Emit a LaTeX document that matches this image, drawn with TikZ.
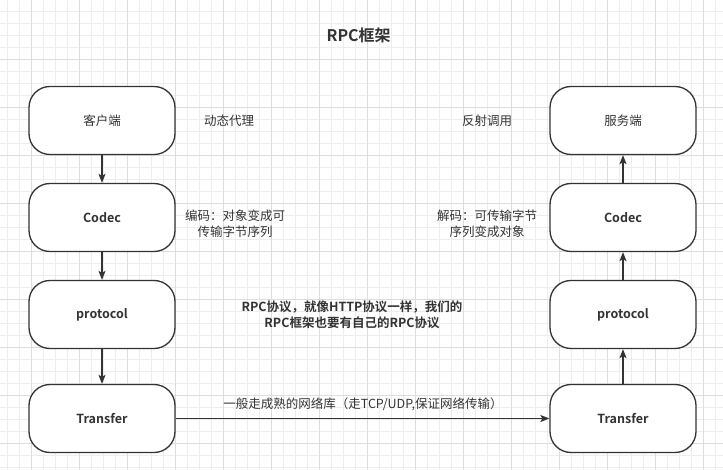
\documentclass[tikz,border=0pt]{standalone}
\usepackage{fontspec}
\setmainfont{Noto Sans CJK SC}[BoldFont={Noto Sans CJK SC Bold}]
\usetikzlibrary{arrows.meta}
\definecolor{ink}{HTML}{333333}
\definecolor{gridlo}{HTML}{EDEDED}
\definecolor{gridhi}{HTML}{DDDDDD}

\begin{document}
\begin{tikzpicture}[x=1pt,y=-1pt]
      \tikzstyle{box}=[draw=ink,line width=1.3pt,fill=white,rounded corners=21pt,minimum width=146pt,minimum height=68pt,inner sep=0pt,text=ink,font=\fontsize{12.5}{15}\selectfont]
      \tikzstyle{note}=[text=ink,align=center,inner sep=0pt,font=\fontsize{12.5}{16}\selectfont]
      \tikzstyle{link}=[draw=ink,line width=1.3pt,-{Stealth[length=9pt,width=7pt,inset=2pt]}]
      \useasboundingbox (0,0) rectangle (723,470);
      \fill[white] (0,0) rectangle (723,470);
      \foreach \x in {7.3,19.3,...,720} \draw[gridlo,line width=0.8pt] (\x,0) -- (\x,470);
      \foreach \y in {11.3,23.3,...,468} \draw[gridlo,line width=0.8pt] (0,\y) -- (723,\y);
      \foreach \x in {31.3,79.3,...,720} \draw[gridhi,line width=0.8pt] (\x,0) -- (\x,470);
      \foreach \y in {59.3,107.3,...,468} \draw[gridhi,line width=0.8pt] (0,\y) -- (723,\y);
      \node[note,font=\fontsize{16}{19}\selectfont\bfseries] (title) at (358.7,35.7) {RPC框架};
      \node[box] (client) at (102,120.5) {客户端};
      \node[box,font=\fontsize{12.5}{15}\selectfont\bfseries] (ccodec) at (102,217.5) {Codec};
      \node[box,font=\fontsize{12.5}{15}\selectfont\bfseries] (cproto) at (102,314.5) {protocol};
      \node[box,font=\fontsize{12.5}{15}\selectfont\bfseries] (ctrans) at (102,418.5) {Transfer};
      \node[box] (server) at (623,120.5) {服务端};
      \node[box,font=\fontsize{12.5}{15}\selectfont\bfseries] (scodec) at (623,217.5) {Codec};
      \node[box,font=\fontsize{12.5}{15}\selectfont\bfseries] (sproto) at (623,314.5) {protocol};
      \node[box,font=\fontsize{12.5}{15}\selectfont\bfseries] (strans) at (623,418.5) {Transfer};
      \node[note] (proxy) at (229,121) {动态代理};
      \node[note] (reflect) at (487,121) {反射调用};
      \node[note] (encode) at (235,224) {编码：对象变成可\\传输字节序列};
      \node[note] (decode) at (487,224) {解码：可传输字节\\序列变成对象};
      \node[note,font=\fontsize{12.5}{16}\selectfont\bfseries] (protonote) at (352,315) {RPC协议，就像HTTP协议一样，我们的\\RPC框架也要有自己的RPC协议};
      \node[note] (netnote) at (363,404) {一般走成熟的网络库（走TCP/UDP,保证网络传输）};
      \draw[link] (client) -- (ccodec);
      \draw[link] (ccodec) -- (cproto);
      \draw[link] (cproto) -- (ctrans);
      \draw[link] (ctrans) -- (strans);
      \draw[link] (strans) -- (sproto);
      \draw[link] (sproto) -- (scodec);
      \draw[link] (scodec) -- (server);
    \end{tikzpicture}
\end{document}
